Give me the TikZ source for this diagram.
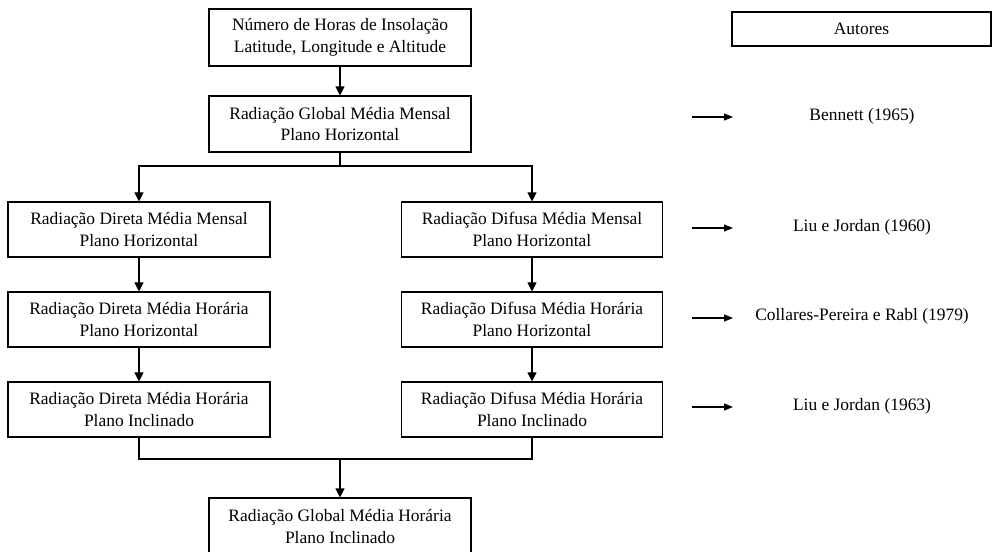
\documentclass[tikz,border=0pt]{standalone}
\usepackage{fontspec}
\setmainfont{Liberation Serif}
\usetikzlibrary{arrows.meta}
\begin{document}
\begin{tikzpicture}[x=1bp,y=-1bp,
  every node/.style={font=\fontsize{17.5}{22}\selectfont, align=center, inner sep=0pt},
  boxnode/.style={draw, line width=1.1bp, minimum width=262bp, minimum height=55bp},
  line/.style={line width=1.1bp},
  arr/.style={line width=1.1bp, -{Triangle[length=9bp,width=9bp]}},
  sarr/.style={line width=1.1bp, -{Triangle[length=9bp,width=7bp]}}]
\useasboundingbox (0,0) rectangle (992,552);
\node[boxnode, minimum height=57bp] (top) at (340,37.5) {Número de Horas de Insolação\\Latitude, Longitude e Altitude};
\node[boxnode, minimum height=56bp] (g) at (340,124) {Radiação Global Média Mensal\\Plano Horizontal};
\node[boxnode] (d1) at (139,229.5) {Radiação Direta Média Mensal\\Plano Horizontal};
\node[boxnode, minimum width=261bp] (f1) at (532,229.5) {Radiação Difusa Média Mensal\\Plano Horizontal};
\node[boxnode] (d2) at (139,319.5) {Radiação Direta Média Horária\\Plano Horizontal};
\node[boxnode, minimum width=261bp] (f2) at (532,319.5) {Radiação Difusa Média Horária\\Plano Horizontal};
\node[boxnode] (d3) at (139,409.5) {Radiação Direta Média Horária\\Plano Inclinado};
\node[boxnode, minimum width=261bp] (f3) at (532,409.5) {Radiação Difusa Média Horária\\Plano Inclinado};
\node[boxnode, minimum height=57bp] (bot) at (340,526.5) {Radiação Global Média Horária\\Plano Inclinado};
\node[draw, line width=1.1bp, minimum width=259bp, minimum height=34bp] (aut) at (861.5,29) {Autores};

\coordinate (s1) at (340,166);
\coordinate (j) at (340,459);
\draw[arr] (top) -- (g);
\draw[line] (g.south) -- (s1);
\draw[arr] (s1) -| (d1.north);
\draw[arr] (s1) -| (f1.north);
\draw[arr] (d1) -- (d2);
\draw[arr] (d2) -- (d3);
\draw[arr] (f1) -- (f2);
\draw[arr] (f2) -- (f3);
\draw[line] (d3.south) |- (j);
\draw[line] (f3.south) |- (j);
\draw[arr] (j) -- (bot.north);

\node (l1) at (862,116) {Bennett (1965)};
\node (l2) at (862,227) {Liu e Jordan (1960)};
\node (l3) at (862,316) {Collares-Pereira e Rabl (1979)};
\node (l4) at (862,406) {Liu e Jordan (1963)};
\coordinate (a1) at (692,117); \coordinate (b1) at (733,117);
\coordinate (a2) at (692,228); \coordinate (b2) at (733,228);
\coordinate (a3) at (692,318); \coordinate (b3) at (733,318);
\coordinate (a4) at (692,407); \coordinate (b4) at (733,407);
\draw[sarr] (a1) -- (b1);
\draw[sarr] (a2) -- (b2);
\draw[sarr] (a3) -- (b3);
\draw[sarr] (a4) -- (b4);
\end{tikzpicture}
\end{document}
